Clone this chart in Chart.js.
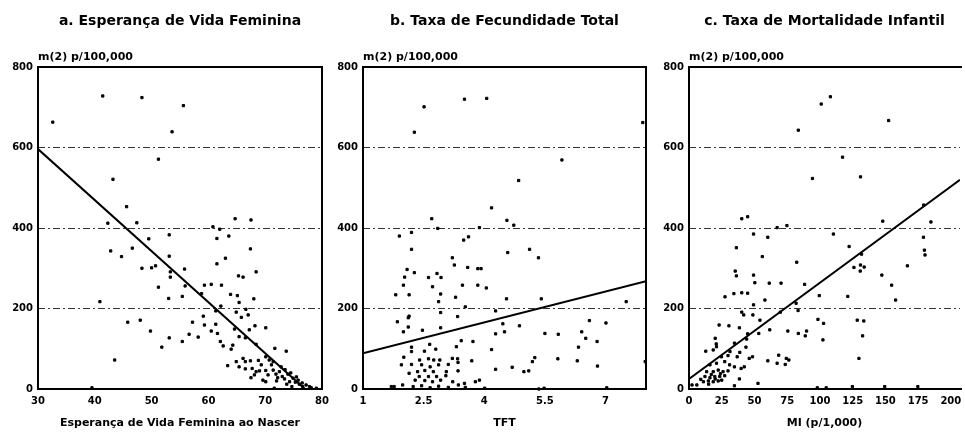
<!DOCTYPE html>
<html>
<head>
<meta charset="utf-8">
<script src="https://cdn.jsdelivr.net/npm/chart.js@4"></script>
<style>
  body { margin: 0; background: #fff; }
  .panel { position: absolute; top: 0; }
</style>
</head>
<body>
<div class="panel" style="left:0"><canvas id="chartA" width="330" height="432"></canvas></div>
<div class="panel" style="left:330px"><canvas id="chartB" width="325" height="432"></canvas></div>
<div class="panel" style="left:655px"><canvas id="chartC" width="310" height="432"></canvas></div>
<script>
// m(2) per 100,000 against each indicator
const unitLabel = 'm(2) p/100,000'
const yTicks = [0, 200, 400, 600, 800]

// a. female life expectancy at birth
const lifeExpTicks = [30, 40, 50, 60, 70, 80]
const lifeExpPoints = [
  [32.6, 663], [41.4, 728], [48.3, 724], [55.6, 704], [53.6, 639], [51.2, 571], [43.2, 521], [45.6, 453],
  [42.3, 412], [47.4, 413], [60.8, 403], [62.0, 397], [64.7, 423], [67.5, 420], [49.5, 373], [53.1, 383],
  [61.5, 374], [63.6, 380], [67.4, 348], [42.8, 343], [44.7, 329], [46.6, 350], [53.1, 330], [63.0, 325],
  [61.5, 311], [48.3, 300], [50.0, 301], [50.7, 306], [53.3, 291], [55.8, 298], [53.3, 278], [65.3, 281],
  [66.1, 278], [68.4, 291], [51.2, 253], [59.3, 258], [60.5, 260], [62.3, 258], [55.9, 256], [58.8, 237],
  [53.0, 225], [55.4, 230], [63.9, 235], [65.1, 232], [68.0, 224], [65.4, 215], [40.9, 217], [62.2, 206],
  [61.3, 194], [64.9, 191], [66.6, 198], [67.0, 184], [65.8, 178], [59.1, 181], [45.8, 166], [48.0, 171],
  [57.2, 166], [59.3, 159], [61.3, 161], [64.6, 149], [68.2, 157], [70.1, 152], [49.8, 144], [60.5, 144],
  [61.6, 138], [67.2, 147], [56.6, 136], [58.2, 129], [53.1, 127], [55.4, 118], [62.1, 118], [65.4, 130],
  [66.5, 127], [64.3, 109], [62.6, 107], [51.8, 104], [64.0, 99], [68.4, 111], [71.7, 101], [73.7, 94],
  [43.5, 72], [63.4, 58], [64.9, 68], [66.1, 76], [66.5, 68], [67.4, 70], [68.8, 71], [70.1, 80],
  [70.7, 72], [71.4, 68], [65.4, 55], [66.5, 50], [67.7, 51], [68.4, 43], [69.0, 45], [70.1, 46],
  [67.5, 28], [68.1, 35], [69.6, 22], [71.1, 60], [71.4, 47], [71.9, 37], [72.5, 43], [73.0, 31],
  [73.4, 25], [74.0, 37], [74.3, 18], [74.9, 27], [75.3, 17], [76.0, 12], [76.6, 6], [77.2, 10],
  [78.1, 3], [71.6, 2], [74.7, 6], [70.1, 18], [39.5, 3], [72.8, 55], [73.5, 48], [72.0, 20],
  [73.8, 12], [75.8, 22], [76.5, 15], [77.8, 6], [79.0, 2], [70.5, 35], [69.3, 60], [72.2, 28],
  [74.5, 40], [75.5, 30]
]
const lifeExpFit = [[30, 596], [77, 0]]

// b. total fertility rate
const tftTicks = [1, 2.5, 4, 5.5, 7]
const tftPoints = [
  [2.51, 701], [3.51, 720], [4.06, 722], [2.27, 638], [7.92, 662], [5.92, 569], [4.85, 518], [4.18, 450],
  [2.70, 423], [4.56, 419], [4.73, 407], [2.85, 399], [3.88, 401], [1.90, 380], [2.20, 389], [3.49, 370],
  [3.61, 378], [2.20, 347], [4.58, 339], [5.12, 347], [5.34, 326], [3.21, 326], [2.09, 297], [2.27, 289],
  [3.26, 308], [3.59, 302], [3.84, 299], [3.92, 299], [2.03, 278], [2.62, 277], [2.83, 287], [2.93, 277],
  [2.00, 258], [2.72, 254], [3.46, 258], [3.84, 258], [4.05, 251], [1.81, 234], [2.14, 234], [2.92, 236],
  [3.29, 228], [2.87, 217], [4.55, 224], [5.41, 224], [7.51, 217], [3.53, 204], [4.28, 194], [2.14, 181],
  [2.12, 177], [1.85, 167], [2.92, 190], [3.34, 180], [4.46, 162], [4.87, 157], [6.60, 170], [7.01, 164],
  [2.12, 154], [2.00, 142], [2.47, 146], [2.92, 152], [4.28, 137], [4.50, 142], [5.50, 138], [5.83, 136],
  [6.41, 142], [6.51, 126], [6.79, 118], [3.43, 120], [3.72, 118], [2.20, 104], [2.65, 111], [2.80, 99],
  [3.31, 105], [4.18, 98], [6.33, 104], [2.52, 94], [2.20, 93], [2.01, 79], [2.40, 72], [2.62, 75],
  [2.75, 72], [2.90, 72], [3.21, 76], [3.34, 75], [3.69, 70], [5.25, 78], [5.19, 68], [5.82, 75],
  [6.30, 70], [7.98, 68], [1.95, 60], [2.20, 61], [2.45, 60], [2.66, 55], [2.87, 60], [3.11, 61],
  [3.35, 66], [6.80, 57], [4.28, 49], [4.69, 54], [4.98, 43], [5.10, 45], [2.35, 43], [2.53, 46],
  [2.74, 43], [3.06, 43], [3.35, 45], [2.14, 39], [2.39, 31], [2.62, 31], [2.82, 31], [3.05, 33],
  [2.29, 22], [2.53, 21], [2.72, 18], [2.92, 22], [3.22, 18], [3.51, 14], [3.78, 18], [3.88, 22],
  [1.70, 6], [1.77, 6], [1.98, 10], [2.24, 6], [2.45, 8], [2.66, 3], [2.87, 7], [3.11, 4],
  [3.36, 10], [3.53, 4], [4.01, 2], [5.35, 0], [5.48, 2], [7.03, 3]
]
const tftFit = [[1, 89], [8, 268]]

// c. infant mortality rate
const miTicks = [0, 25, 50, 75, 100, 125, 150, 175, 200]
const miPoints = [
  [101.0, 708], [108.0, 726], [83.5, 643], [152.5, 667], [117.3, 576], [94.3, 523], [131.0, 527], [179.3, 457],
  [40.3, 423], [44.8, 428], [148.0, 417], [184.8, 415], [74.8, 406], [67.3, 401], [49.3, 385], [60.2, 377],
  [110.3, 385], [179.1, 377], [36.2, 351], [122.3, 354], [179.8, 345], [180.3, 333], [56.0, 329], [131.8, 335],
  [82.3, 315], [126.0, 302], [131.0, 308], [133.8, 303], [130.8, 293], [166.8, 306], [35.3, 293], [36.2, 281],
  [49.3, 283], [147.3, 283], [50.3, 264], [61.3, 263], [70.3, 263], [88.3, 260], [154.8, 258], [34.3, 237],
  [40.3, 239], [44.8, 238], [27.5, 229], [58.0, 221], [99.5, 232], [121.3, 230], [157.8, 221], [49.3, 209],
  [81.8, 213], [40.3, 191], [41.8, 184], [48.8, 184], [69.8, 191], [83.3, 195], [54.2, 171], [98.5, 173],
  [102.8, 163], [128.5, 171], [133.5, 169], [23.0, 159], [30.5, 157], [38.5, 152], [61.7, 147], [75.5, 144],
  [44.8, 137], [53.3, 138], [83.5, 138], [89.8, 144], [88.8, 132], [132.6, 132], [20.0, 126], [44.0, 124],
  [20.8, 112], [34.7, 114], [102.3, 122], [12.8, 94], [18.5, 97], [21.0, 105], [31.3, 93], [38.8, 91],
  [43.5, 104], [24.8, 80], [29.8, 83], [36.8, 80], [46.0, 76], [48.5, 80], [60.2, 70], [67.3, 64],
  [68.5, 84], [73.5, 61], [74.3, 76], [76.3, 72], [129.8, 76], [16.0, 60], [21.0, 64], [27.3, 68],
  [31.0, 60], [34.7, 55], [39.8, 51], [42.2, 55], [13.5, 43], [18.5, 43], [22.3, 47], [26.0, 43],
  [29.8, 45], [12.2, 31], [16.0, 28], [19.7, 31], [23.5, 31], [27.3, 33], [38.5, 25], [11.0, 18],
  [14.8, 20], [18.5, 18], [22.3, 20], [6.0, 10], [2.3, 10], [52.7, 14], [34.7, 8], [98.0, 3],
  [104.8, 3], [124.8, 6], [149.5, 6], [174.8, 6], [15, 12], [20, 25], [25, 22], [17, 36],
  [24, 38], [9, 24]
]
const miFit = [[0, 25], [207, 520]]

Chart.defaults.font.family = '"DejaVu Sans", sans-serif'
Chart.defaults.color = '#000'

const tickFont = { size: 10, weight: 'bold' }

// plot box, panel title and the unit label above the y axis
const framePlugin = {
  id: 'frame',
  afterDatasetsDraw(chart, args, opts) {
    const {ctx, chartArea: a} = chart
    ctx.save()
    ctx.strokeStyle = '#000'
    ctx.lineWidth = 2
    ctx.beginPath()
    if (opts.openRight) {
      ctx.moveTo(a.right + 2, a.top)
      ctx.lineTo(a.left, a.top)
      ctx.lineTo(a.left, a.bottom)
      ctx.lineTo(a.right + 2, a.bottom)
    } else {
      ctx.rect(a.left, a.top, a.right - a.left, a.bottom - a.top)
    }
    ctx.stroke()

    ctx.fillStyle = '#000'
    ctx.textBaseline = 'middle'
    ctx.textAlign = 'center'
    ctx.font = 'bold 14px "DejaVu Sans"'
    ctx.fillText(opts.title, (a.left + a.right) / 2, 21)
    ctx.textAlign = 'left'
    ctx.font = 'bold 11px "DejaVu Sans"'
    ctx.fillText(unitLabel, a.left, 57)
    ctx.restore()
  }
}

function toXY(pairs) {
  return pairs.map(p => ({x: p[0], y: p[1]}))
}

function makePanel(canvasId, panel) {
  const config = {
    type: 'scatter',
    data: {
      datasets: [
        {
          data: toXY(panel.points),
          backgroundColor: '#000',
          borderColor: '#000',
          pointRadius: 1.6,
          pointStyle: 'rect',
          clip: 4
        },
        {
          data: toXY(panel.fit),
          showLine: true,
          borderColor: '#000',
          borderWidth: 2,
          pointRadius: 0
        }
      ]
    },
    options: {
      responsive: false,
      animation: false,
      layout: {
        padding: {top: 67, right: panel.rightPad, bottom: 0, left: 0}
      },
      plugins: {
        legend: {display: false},
        tooltip: {enabled: false},
        frame: {title: panel.title, openRight: panel.openRight}
      },
      scales: {
        x: {
          type: 'linear',
          min: panel.xMin,
          max: panel.xMax,
          afterBuildTicks: s => { s.ticks = panel.xTicks.map(v => ({value: v})) },
          afterFit: s => {
            s.height = 43
            s.paddingLeft = 0
            s.paddingRight = 0
          },
          grid: {display: false, drawTicks: false},
          border: {display: false},
          ticks: {
            padding: 6,
            maxRotation: 0,
            autoSkip: false,
            font: tickFont,
            callback: v => String(v)
          },
          title: {
            display: true,
            text: panel.xTitle,
            font: {size: 11, weight: 'bold'},
            padding: {top: 0, bottom: 2}
          }
        },
        y: {
          min: 0,
          max: 800,
          afterBuildTicks: s => { s.ticks = yTicks.map(v => ({value: v})) },
          afterFit: s => { s.width = panel.leftW },
          grid: {
            drawTicks: false,
            lineWidth: 1,
            color: c => (c.tick && (c.tick.value === 0 || c.tick.value === 800)) ? 'rgba(0,0,0,0)' : '#333'
          },
          border: {display: false, dash: [7, 3, 2, 3]},
          ticks: {padding: 5, font: tickFont}
        }
      }
    },
    plugins: [framePlugin]
  }
  return new Chart(document.getElementById(canvasId), config)
}

makePanel('chartA', {
  title: 'a. Esperança de Vida Feminina',
  xTitle: 'Esperança de Vida Feminina ao Nascer',
  points: lifeExpPoints, fit: lifeExpFit, xTicks: lifeExpTicks,
  xMin: 30, xMax: 80, leftW: 38, rightPad: 8, openRight: false
})

makePanel('chartB', {
  title: 'b. Taxa de Fecundidade Total',
  xTitle: 'TFT',
  points: tftPoints, fit: tftFit, xTicks: tftTicks,
  xMin: 1, xMax: 8, leftW: 33, rightPad: 9, openRight: false
})

makePanel('chartC', {
  title: 'c. Taxa de Mortalidade Infantil',
  xTitle: 'MI (p/1,000)',
  points: miPoints, fit: miFit, xTicks: miTicks,
  xMin: 0, xMax: 207, leftW: 34, rightPad: 0, openRight: true
})
</script>
</body>
</html>
